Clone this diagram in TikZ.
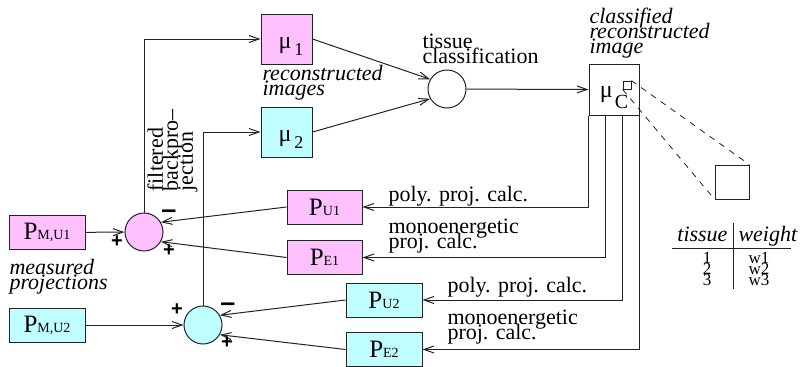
\documentclass[tikz,border=0pt]{standalone}
\usepackage{fontspec}
\setmainfont{Liberation Serif}
\newfontfamily\signfont{Liberation Sans}
\usetikzlibrary{arrows.meta,calc}

\definecolor{pinkfill}{RGB}{255,192,255}
\definecolor{cyanfill}{RGB}{192,255,255}
\definecolor{linec}{RGB}{35,35,35}

% projection symbol: large P with a small index on the same baseline
\newcommand\pjl[1]{{\fontsize{25}{25}\selectfont P}{\fontsize{14}{14}\selectfont #1}}
% tight line spacing for stacked labels
\newcommand\tightlines[2]{\fontsize{#1}{#2}\selectfont\lineskiplimit=-100pt\lineskip=0pt}

\begin{document}
\begin{tikzpicture}[x=1pt,y=-1pt,line width=1pt,
  box/.style={draw=linec,inner sep=0pt},
  imgbox/.style={box,minimum width=51pt,minimum height=50pt,
    text height=18pt,text depth=0pt,font=\fontsize{24}{24}\selectfont},
  projbox/.style={box,minimum width=76pt,minimum height=34pt},
  pinkbox/.style={fill=pinkfill},
  cyanbox/.style={fill=cyanfill},
  sumnode/.style={circle,draw=linec,minimum size=38pt,inner sep=0pt},
  conn/.style={draw=linec,-{Straight Barb[length=10pt,width=7pt]}},
  plain/.style={draw=linec},
  lbl/.style={inner sep=0pt,align=left,anchor=north west,
    font=\tightlines{22}{15}},
  ilbl/.style={lbl,font=\tightlines{22}{15}\itshape},
  sign/.style={inner sep=0pt,font=\signfont\bfseries\fontsize{20}{20}\selectfont},
  minusmark/.style={inner sep=0pt,font=\signfont\bfseries\fontsize{27}{27}\selectfont},
  tabtext/.style={inner sep=0pt,align=center,font=\tightlines{17}{11}},
  sq/.style={draw=linec,inner sep=0pt,line width=0.8pt}
]
\useasboundingbox (0,0) rectangle (801,367);

% reconstructed images
\node[imgbox,pinkbox] (mu1) at (286.5,39) {\kern9pt μ\kern3pt\raisebox{-7pt}{\fontsize{18}{18}\selectfont 1}};
\node[imgbox,cyanbox] (mu2) at (286.5,132) {\kern9pt μ\kern3pt\raisebox{-7pt}{\fontsize{18}{18}\selectfont 2}};

% measured projections
\node[projbox,pinkbox] (pm1) at (47,232.5) {\pjl{M,U1}};
\node[projbox,cyanbox] (pm2) at (47,325) {\pjl{M,U2}};

% calculated projections
\node[projbox,pinkbox,minimum width=75pt] (pu1) at (324.5,207) {\pjl{U1}};
\node[projbox,pinkbox,minimum width=75pt] (pe1) at (324.5,257.5) {\pjl{E1}};
\node[projbox,cyanbox] (pu2) at (384,300) {\pjl{U2}};
\node[projbox,cyanbox] (pe2) at (384,349.5) {\pjl{E2}};

% summation points and classification
\node[sumnode,fill=pinkfill] (c1) at (144,232) {};
\node[sumnode,fill=cyanfill] (c2) at (203,325) {};
\node[sumnode,fill=white] (tc) at (447,89) {};

% classified image
\node[box,minimum width=50pt,minimum height=51pt,text height=20pt,text depth=5pt,
  font=\fontsize{24}{24}\selectfont] (muc) at (614,89.5)
  {μ\kern2pt\raisebox{-11pt}{\fontsize{20}{20}\selectfont C}};
\node[sq,minimum size=8pt] (pix) at (627,85) {};
\node[sq,minimum size=34pt] (zoom) at (732,182) {};
\draw[plain,dash pattern=on 6pt off 6pt,line width=0.8pt] (pix.north east) -- (zoom.north east);
\draw[plain,dash pattern=on 6pt off 6pt,line width=0.8pt] (pix.south west) -- (zoom.south west);

% connectors
\draw[conn] (pm1) -- (c1);
\draw[conn] (pm2) -- (c2);
\draw[conn] (c1.north) |- (mu1.west);
\draw[conn] (c2.north) |- (mu2.west);
\draw[conn] (mu1.east) -- (tc.150);
\draw[conn] (mu2.east) -- (tc.210);
\draw[conn] (tc) -- (muc.west);
\draw[conn] (muc.south west) |- (pu1.east);
\draw[conn] ($(muc.south west)!1/3!(muc.south east)$) |- (pe1.east);
\draw[conn] ($(muc.south west)!2/3!(muc.south east)$) |- (pu2.east);
\draw[conn] (muc.south east) |- (pe2.east);
\draw[conn] (pu1.west) -- (c1.30);
\draw[conn] (pe1.west) -- (c1.-30);
\draw[conn] (pu2.west) -- (c2.30);
\draw[conn] (pe2.west) -- (c2.-30);

% signs at the summation points
\node[sign] (s1) at (117,242) {+};
\node[sign] (s2) at (169,251) {+};
\node[minusmark] (s3) at (169,214) {–};
\node[sign] (s4) at (177,310) {+};
\node[sign] (s5) at (227,343) {+};
\node[minusmark] (s6) at (228,307) {–};

% connector labels
\node[lbl,anchor=base west] (l1) at (388,201) {poly. proj. calc.};
\node[lbl] (l2) at (388,218) {monoenergetic\\proj. calc.};
\node[lbl,anchor=base west] (l3) at (447,292) {poly. proj. calc.};
\node[lbl] (l4) at (447,309) {monoenergetic\\proj. calc.};
\node[lbl] (l5) at (422,33) {tissue\\classification};
\node[lbl,rotate=90] (l6) at (147,192) {filtered\\backpro–\\jection};

% italic captions
\node[ilbl] (t1) at (262,65) {reconstructed\\images};
\node[ilbl] (t2) at (9,259) {measured\\projections};
\node[ilbl] (t3) at (589,8) {classified\\reconstructed\\image};

% tissue weight table
\node[inner sep=0pt,anchor=base east,font=\fontsize{22}{22}\selectfont\itshape] (h1) at (728,241) {tissue};
\node[inner sep=0pt,anchor=base west,font=\fontsize{22}{22}\selectfont\itshape] (h2) at (738,241) {weight};
\node[tabtext,anchor=north] (r1) at (707,251.5) {1\\2\\3};
\node[tabtext,anchor=north] (r2) at (759,251.5) {w1\\w2\\w3};
\coordinate (vt) at (733,223);
\coordinate (vb) at (733,289);
\coordinate (hl) at (672,248);
\coordinate (hr) at (791,248);
\draw[plain,line width=0.8pt] (vt) -- (vb);
\draw[plain,line width=0.8pt] (hl) -- (hr);
\end{tikzpicture}
\end{document}
